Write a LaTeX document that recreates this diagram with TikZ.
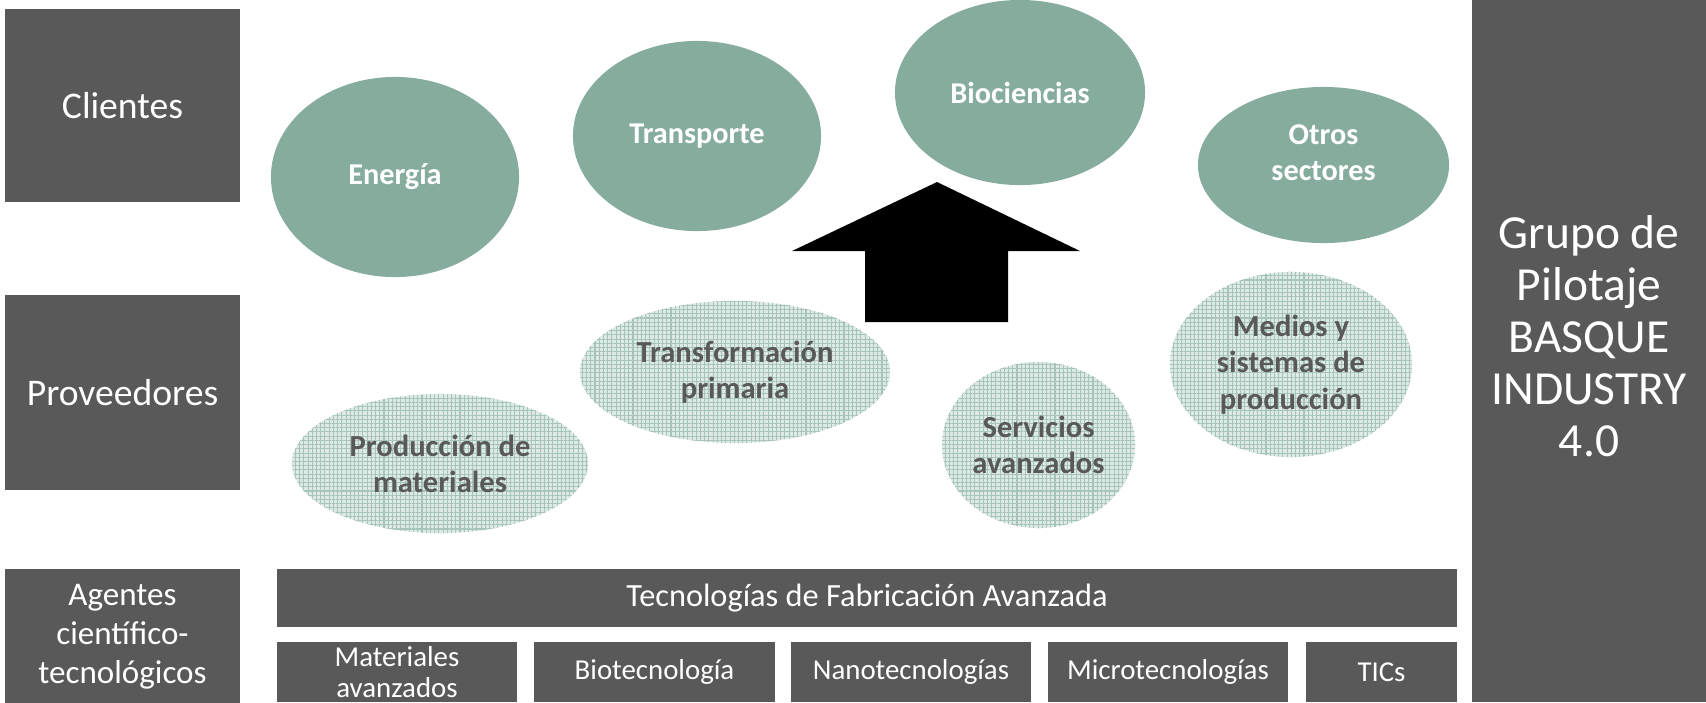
\documentclass[tikz,border=0pt]{standalone}
\usepackage{fontspec}
\setmainfont{Carlito}
\usetikzlibrary{positioning,shapes.geometric,patterns.meta}
\definecolor{boxGray}{HTML}{595959}
\definecolor{sectorGreen}{HTML}{86AC9E}
\definecolor{gridFill}{HTML}{DDE9E4}
\definecolor{gridLine}{HTML}{A6C4B9}

\begin{document}
\begin{tikzpicture}[x=0.01cm, y=-0.01cm,
    rowBox/.style={fill=boxGray, text=white, align=center, inner sep=0pt,
        minimum width=2.35cm, font=\fontsize{10.7}{12}\selectfont},
    techBox/.style={fill=boxGray, text=white, align=center, inner sep=0pt,
        minimum height=0.6cm, font=\fontsize{8.2}{9}\selectfont},
    sector/.style={ellipse, fill=sectorGreen, text=white, align=center, inner sep=0pt,
        font=\bfseries\fontsize{8.6}{10.2}\selectfont},
    supplier/.style={ellipse, fill=gridFill, text=boxGray, align=center, inner sep=0pt,
        font=\bfseries\fontsize{8.7}{10.3}\selectfont,
        postaction={pattern={Hatch[angle=0,distance=1.2pt,line width=0.3pt]}, pattern color=gridLine}}]
    \useasboundingbox (0,0) rectangle (1706,702);
    \def\colLeft{122.5}
    \def\rowTech{672}
    % left column
    \node[rowBox, minimum height=1.93cm] (clientes) at (\colLeft,105.5) {Clientes};
    \node[rowBox, minimum height=1.95cm] (proveedores) at (\colLeft,392.5) {Proveedores};
    \node[rowBox, minimum height=1.35cm, font=\fontsize{9.4}{11.1}\selectfont] (agentes) at (\colLeft,637) {Agentes\\científico-\\tecnológicos};
    % right column
    \node[fill=boxGray, minimum width=2.34cm, minimum height=7.02cm, inner sep=0pt] (grupoPilotaje) at (1589,351) {};
    \node[text=white, align=center, font=\fontsize{13.5}{14.8}\selectfont] (grupoTexto) at (1589,336) {Grupo de\\Pilotaje\\BASQUE\\INDUSTRY\\4.0};
    % clientes
    \node[sector, minimum width=2.48cm, minimum height=2cm] (energia) at (395,177) {Energía};
    \node[sector, minimum width=2.48cm, minimum height=1.9cm] (transporte) at (697,136) {Transporte};
    \node[sector, minimum width=2.5cm, minimum height=1.85cm] (biociencias) at (1020,92.5) {Biociencias};
    \node[sector, minimum width=2.51cm, minimum height=1.56cm,
        label={[text=white, align=center, font=\bfseries\fontsize{8.6}{10.2}\selectfont, yshift=0.12cm]center:Otros\\sectores}] (otrosSectores) at (1323.5,165) {};
    % proveedores
    \node[supplier, minimum width=2.96cm, minimum height=1.39cm] (produccionMateriales) at (440,463.5) {Producción de\\materiales};
    \node[supplier, minimum width=3.1cm, minimum height=1.42cm] (transformacionPrimaria) at (735,372) {Transformación\\primaria};
    \node[supplier, minimum width=1.93cm, minimum height=1.66cm] (serviciosAvanzados) at (1038.5,445) {Servicios\\avanzados};
    \node[supplier, minimum width=2.42cm, minimum height=1.85cm] (mediosSistemas) at (1291,364.5) {Medios y\\sistemas de\\producción};
    % flecha
    \fill[black] (937,182) -- (1080,251) -- (1008,251) -- (1008,322) -- (865,322) -- (865,251) -- (792,251) -- cycle;
    % agentes
    \node[techBox, minimum width=11.8cm, minimum height=0.58cm, font=\fontsize{9.2}{10}\selectfont] (fabricacionAvanzada) at (867,598) {Tecnologías de Fabricación Avanzada};
    \node[techBox, minimum width=2.4cm] (materialesAvanzados) at (397,\rowTech) {Materiales\\avanzados};
    \node[techBox, minimum width=2.41cm] (biotecnologia) at (654.5,\rowTech) {Biotecnología};
    \node[techBox, minimum width=2.4cm] (nanotecnologias) at (911,\rowTech) {Nanotecnologías};
    \node[techBox, minimum width=2.4cm] (microtecnologias) at (1168,\rowTech) {Microtecnologías};
    \node[techBox, minimum width=1.51cm] (tics) at (1381.5,\rowTech) {TICs};
\end{tikzpicture}
\end{document}
